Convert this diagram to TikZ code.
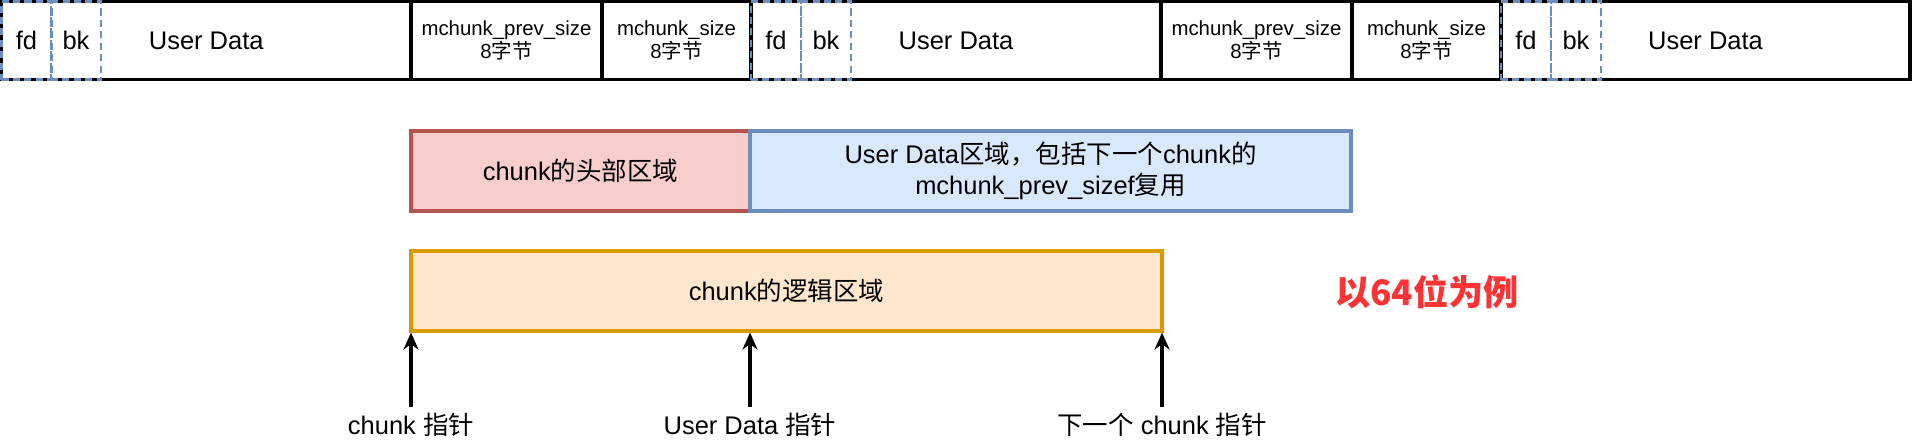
\documentclass[tikz,border=0pt]{standalone}
\usepackage{fontspec}
\setmainfont{Liberation Sans}
\newfontfamily\cjk{Noto Sans CJK SC}
\usetikzlibrary{arrows.meta, positioning}
\usepackage{xcolor}
\definecolor{dashblue}{HTML}{6C8EBF}
\definecolor{headfill}{HTML}{F8CECC}
\definecolor{headline}{HTML}{B85450}
\definecolor{datafill}{HTML}{DAE8FC}
\definecolor{logicfill}{HTML}{FFE6CC}
\definecolor{logicline}{HTML}{D79B00}
\definecolor{notered}{HTML}{FF3333}

\begin{document}
\begin{tikzpicture}[
    cell/.style={rectangle, draw=black, line width=1.8pt, minimum height=1.57cm, inner sep=0pt, align=center, font=\fontsize{14.5}{17.4}\selectfont},
    sizecell/.style={cell, font=\fontsize{11.6}{13}\selectfont},
    ptrbox/.style={rectangle, draw=dashblue, line width=1.5pt, dash pattern=on 4pt off 2.5pt, minimum width=1cm, minimum height=1.57cm, inner sep=0pt, font=\fontsize{14.5}{17.4}\selectfont},
    region/.style={rectangle, line width=1.8pt, minimum height=1.6cm, inner sep=0pt, align=center, font=\fontsize{14.5}{17.4}\selectfont},
    pointer/.style={font=\fontsize{14.5}{17.4}\selectfont},
    arrow/.style={-{Stealth[length=3.4mm, width=3mm, inset=1.1mm]}, line width=1.8pt},
]
\useasboundingbox (0,0) rectangle (38.26,-8.92);

% Memory row
\node[cell, minimum width=8.19cm] (ud1) at (4.125,-0.81) {User Data};
\node[sizecell, minimum width=3.82cm] (prev1) at (10.13,-0.81) {mchunk\_prev\_size\\8{\cjk 字节}};
\node[sizecell, minimum width=2.98cm] (size1) at (13.53,-0.81) {mchunk\_size\\8{\cjk 字节}};
\node[cell, minimum width=8.2cm] (ud2) at (19.12,-0.81) {User Data};
\node[sizecell, minimum width=3.82cm] (prev2) at (25.13,-0.81) {mchunk\_prev\_size\\8{\cjk 字节}};
\node[sizecell, minimum width=2.98cm] (size2) at (28.53,-0.81) {mchunk\_size\\8{\cjk 字节}};
\node[cell, minimum width=8.18cm] (ud3) at (34.11,-0.81) {User Data};

% fd / bk
\node[ptrbox] (fd1) at (0.53,-0.81) {fd};
\node[ptrbox] (bk1) at (1.52,-0.81) {bk};
\node[ptrbox] (fd2) at (15.52,-0.81) {fd};
\node[ptrbox] (bk2) at (16.52,-0.81) {bk};
\node[ptrbox] (fd3) at (30.52,-0.81) {fd};
\node[ptrbox] (bk3) at (31.52,-0.81) {bk};

% Header and user data
\node[region, draw=headline, fill=headfill, minimum width=6.78cm] (head) at (11.61,-3.42) {chunk{\cjk 的头部区域}};
\node[region, draw=dashblue, fill=datafill, minimum width=12.02cm] (udata) at (21.01,-3.42) {User Data{\cjk 区域，包括下一个}chunk{\cjk 的}\\mchunk\_prev\_sizef{\cjk 复用}};

% Logical chunk
\node[region, draw=logicline, fill=logicfill, minimum width=15.02cm] (logic) at (15.73,-5.82) {chunk{\cjk 的逻辑区域}};

\node[font=\cjk\bfseries\fontsize{20}{24}\selectfont, text=notered] (note) at (28.54,-5.84) {以64位为例};

% Pointers
\node[pointer] (chunkptr) at (8.22,-8.5) {chunk {\cjk 指针}};
\node[pointer] (dataptr) at (15.0,-8.5) {User Data {\cjk 指针}};
\node[pointer] (nextptr) at (23.24,-8.5) {{\cjk 下一个} chunk {\cjk 指针}};

\draw[arrow] (chunkptr.north) -- (chunkptr.north |- logic.south);
\draw[arrow] (dataptr.north) -- (dataptr.north |- logic.south);
\draw[arrow] (nextptr.north) -- (nextptr.north |- logic.south);

\end{tikzpicture}
\end{document}
